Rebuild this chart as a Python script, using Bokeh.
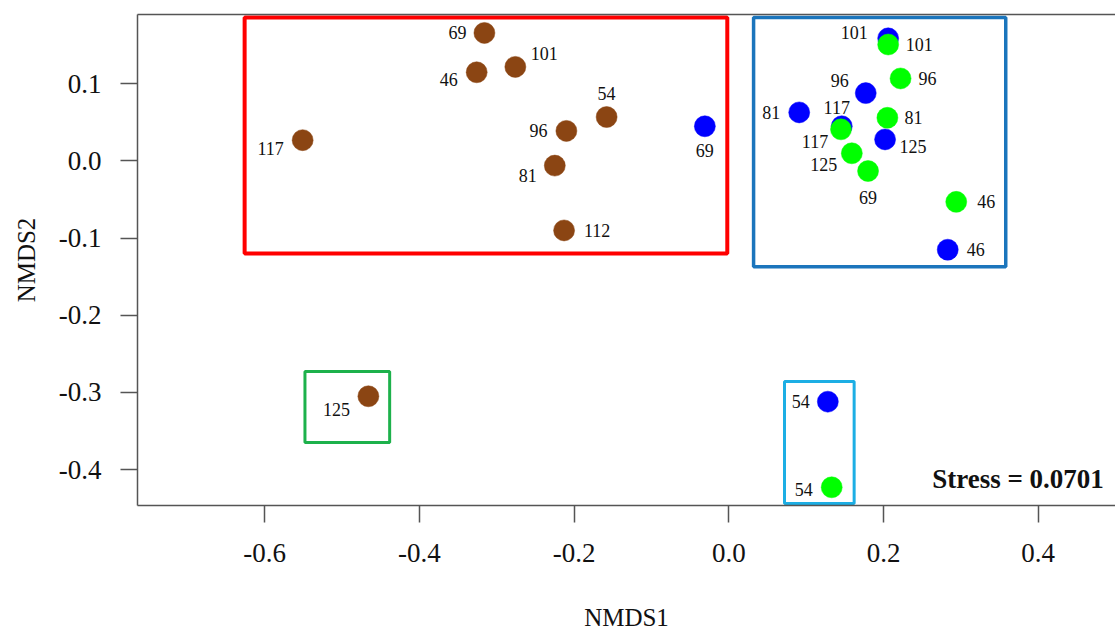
from bokeh.plotting import figure
from bokeh.models import (Range1d, FixedTicker, NumeralTickFormatter, LinearAxis,
                          ColumnDataSource, Label)
from bokeh.core.properties import value
from bokeh.embed import file_html
from bokeh.resources import INLINE

# ---------------- data ----------------
brown_ids = ["69", "46", "101", "54", "96", "81", "112", "117", "125"]
brown_x = [-0.316, -0.326, -0.276, -0.158, -0.210, -0.225, -0.213, -0.551, -0.466]
brown_y = [0.166, 0.115, 0.122, 0.057, 0.039, -0.006, -0.090, 0.027, -0.305]

blue_ids = ["69", "101", "96", "81", "117", "125", "46", "54"]
blue_x = [-0.031, 0.206, 0.177, 0.091, 0.146, 0.202, 0.283, 0.128]
blue_y = [0.045, 0.159, 0.088, 0.063, 0.045, 0.028, -0.115, -0.312]

green_ids = ["101", "96", "81", "117", "125", "69", "46", "54"]
green_x = [0.206, 0.222, 0.205, 0.145, 0.159, 0.180, 0.294, 0.133]
green_y = [0.151, 0.107, 0.056, 0.041, 0.010, -0.013, -0.053, -0.423]

# cluster boxes: left, right, top, bottom (data units)
box_left = [-0.626, 0.032, -0.548, 0.072]
box_right = [-0.002, 0.358, -0.4385, 0.162]
box_top = [0.186, 0.186, -0.273, -0.286]
box_bottom = [-0.120, -0.137, -0.365, -0.444]

x_ticks = [-0.6, -0.4, -0.2, 0.0, 0.2, 0.4]
y_ticks = [-0.4, -0.3, -0.2, -0.1, 0.0, 0.1]
stress_text = "Stress = 0.0701"

# ---------------- styles ----------------
FONT = "Liberation Serif"
BROWN = "#8B4513"
BLUE = "#0000FF"
GREEN = "#00FF00"
box_colors = ["#FF0000", "#1B75BC", "#1DB14B", "#1CAEE4"]
box_widths = [4, 3.5, 3, 3]

# label offsets in screen pixels (dx, dy) per point
brown_off = [(-27, 0), (-28, 7), (29, -13), (0, -24), (-28, 0), (-27, 10), (33, 0), (-32, 8), (-32, 13)]
blue_off = [(0, 24), (-34, -6), (-26, -13), (-28, 0), (-5, -19), (28, 7), (28, 0), (-27, 0)]
green_off = [(31, 0), (27, 0), (26, 0), (-26, 12), (-28, 11), (0, 26), (30, 0), (-28, 2)]

p = figure(width=1115, height=633, output_backend="svg", toolbar_location=None,
           x_range=Range1d(-0.7645, 0.4999), y_range=Range1d(-0.4466, 0.1899),
           min_border_left=137, min_border_right=0, min_border_top=14,
           min_border_bottom=126, x_axis_label="NMDS1", y_axis_label="NMDS2")
p.outline_line_color = None
p.grid.visible = False
p.background_fill_color = "white"
p.border_fill_color = "white"

AX_COLOR = "#555555"
for ax, ticks in ((p.xaxis[0], x_ticks), (p.yaxis[0], y_ticks)):
    ax.ticker = FixedTicker(ticks=ticks)
    ax.formatter = NumeralTickFormatter(format="0.0")
    ax.axis_line_color = AX_COLOR
    ax.axis_line_width = 1.5
    ax.major_tick_line_color = AX_COLOR
    ax.major_tick_line_width = 1.5
    ax.major_tick_out = 17
    ax.major_tick_in = 0
    ax.minor_tick_line_color = None
    ax.major_label_text_font = FONT
    ax.major_label_text_font_size = "27px"
    ax.major_label_text_color = "#111111"
    ax.axis_label_text_font = FONT
    ax.axis_label_text_font_size = "25px"
    ax.axis_label_text_font_style = "normal"
    ax.axis_label_text_color = "#111111"

p.xaxis[0].major_label_standoff = 21
p.xaxis[0].axis_label_standoff = 39
p.yaxis[0].major_label_standoff = 19
p.yaxis[0].axis_label_standoff = 16

# top frame line
top_ax = LinearAxis(ticker=FixedTicker(ticks=[]), axis_line_color=AX_COLOR,
                    axis_line_width=1.5, major_tick_line_color=None,
                    minor_tick_line_color=None, major_label_text_font_size="0px")
p.add_layout(top_ax, "above")

# cluster boxes
p.quad(left=box_left, right=box_right, top=box_top, bottom=box_bottom,
       fill_color=None, line_color=box_colors, line_width=box_widths)

def add_group(ids, xs, ys, color, offs):
    src = ColumnDataSource(dict(x=xs, y=ys, t=ids,
                                dx=[o[0] for o in offs], dy=[o[1] for o in offs]))
    p.scatter("x", "y", source=src, size=21, fill_color=color, line_color=color,
              line_width=0.5)
    p.text("x", "y", text="t", source=src, x_offset="dx", y_offset="dy",
           text_font=value(FONT), text_font_size="18px", text_color="#111111",
           text_align="center", text_baseline="middle")

add_group(brown_ids, brown_x, brown_y, BROWN, brown_off)
add_group(blue_ids, blue_x, blue_y, BLUE, blue_off)
add_group(green_ids, green_x, green_y, GREEN, green_off)

p.add_layout(Label(x=0.4848, y=-0.412, text=stress_text, text_font=FONT,
                   text_font_size="27px", text_font_style="bold",
                   text_align="right", text_baseline="middle", text_color="#111111"))

open("out.html", "w").write(file_html(p, INLINE))
